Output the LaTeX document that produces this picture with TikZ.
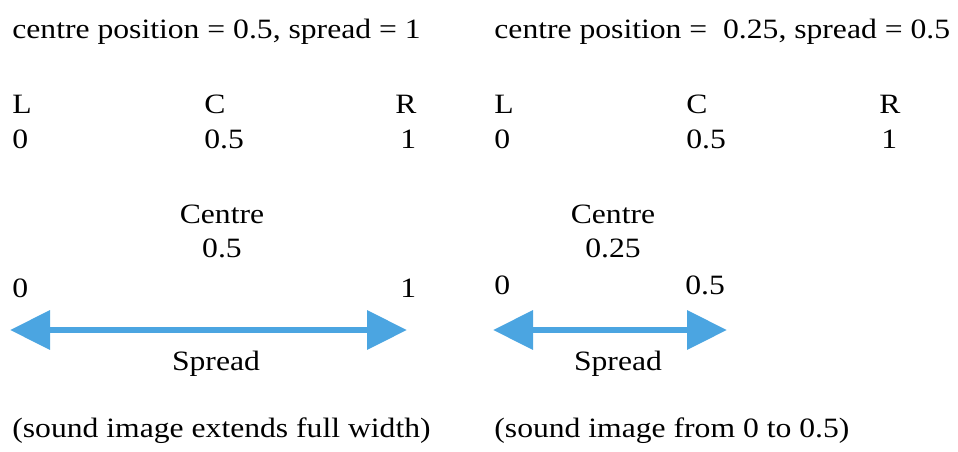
\documentclass[tikz,border=0pt]{standalone}
\usepackage{fontspec}
\setmainfont{Liberation Serif}[FakeStretch=1.13]
\usetikzlibrary{arrows.meta}
\definecolor{spreadblue}{RGB}{75,165,225}
\tikzset{
  lbl/.style={inner sep=0pt, anchor=base west, font=\fontsize{14}{17}\selectfont},
  clbl/.style={lbl, anchor=base},
  spreadarrow/.style={spreadblue, line width=3.3pt,
    {Triangle[length=20pt,width=19pt]}-{Triangle[length=20pt,width=19pt]}}
}
\begin{document}
\begin{tikzpicture}[x=0.5pt,y=-0.5pt]
\useasboundingbox (0,0) rectangle (958,451);
% full width
\node[lbl] (titleA) at (12,38) {centre position = 0.5, spread = 1};
\node[lbl] (lA) at (12,113) {L};
\node[lbl] (cA) at (204,113) {C};
\node[lbl] (rA) at (395,113) {R};
\node[lbl] (lvA) at (12,148) {0};
\node[lbl] (cvA) at (204,148) {0.5};
\node[lbl] (rvA) at (400,148) {1};
\node[clbl] (centreA) at (222,223) {Centre};
\node[clbl] (centrevA) at (222,257) {0.5};
\node[lbl] (startA) at (12,297) {0};
\node[lbl] (endA) at (400,297) {1};
\coordinate (spreadAl) at (10,330);
\coordinate (spreadAr) at (407,330);
\draw[spreadarrow] (spreadAl) -- (spreadAr);
\node[clbl] (spreadA) at (216,370) {Spread};
\node[lbl] (noteA) at (12,437) {(sound image extends full width)};
% half width
\node[lbl] (titleB) at (494,38) {centre position = \ 0.25, spread = 0.5};
\node[lbl] (lB) at (494,113) {L};
\node[lbl] (cB) at (686,113) {C};
\node[lbl] (rB) at (879,113) {R};
\node[lbl] (lvB) at (494,148) {0};
\node[lbl] (cvB) at (686,148) {0.5};
\node[lbl] (rvB) at (881,148) {1};
\node[clbl] (centreB) at (613,223) {Centre};
\node[clbl] (centrevB) at (613,257) {0.25};
\node[lbl] (startB) at (494,294) {0};
\node[lbl] (endB) at (685,294) {0.5};
\coordinate (spreadBl) at (493,330);
\coordinate (spreadBr) at (727,330);
\draw[spreadarrow] (spreadBl) -- (spreadBr);
\node[clbl] (spreadB) at (618,370) {Spread};
\node[lbl] (noteB) at (494,437) {(sound image from 0 to 0.5)};
\end{tikzpicture}
\end{document}
